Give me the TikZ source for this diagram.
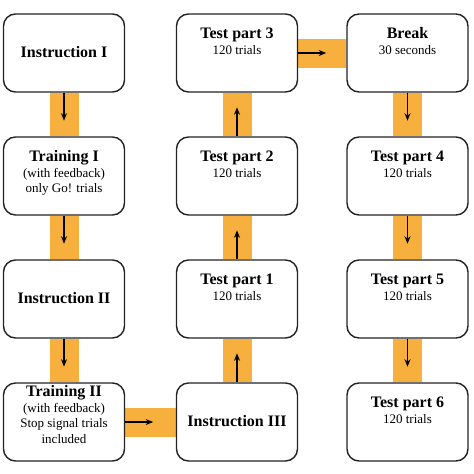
\documentclass[tikz,border=0pt]{standalone}
\usepackage{fontspec}
\setmainfont{Liberation Serif}
\usetikzlibrary{arrows.meta,backgrounds}
\definecolor{barorange}{RGB}{247,175,62}
\definecolor{boxline}{RGB}{35,35,35}
\tikzset{
  box/.style={draw=boxline, line width=1.4pt, rounded corners=12pt, fill=white,
    minimum width=121pt, minimum height=78pt, inner sep=0pt},
  ttl/.style={font=\bfseries\fontsize{16}{18}\selectfont, anchor=base, inner sep=0pt},
  sub/.style={font=\fontsize{13}{15.5}\selectfont, anchor=base, inner sep=0pt},
  bar/.style={fill=barorange},
  arr/.style={line width=1.2pt, -{Stealth[length=7.5pt,width=6pt]}}
}
\begin{document}
\begin{tikzpicture}[x=1pt,y=1pt]
\useasboundingbox (0,0) rectangle (474,-474);
% boxes
\node[box] (ins1) at (64,-53) {};
\node[box] (tr1) at (64,-176) {};
\node[box] (ins2) at (64,-299) {};
\node[box] (tr2) at (64,-422) {};
\node[box] (ins3) at (237,-422) {};
\node[box] (tp1) at (237,-299) {};
\node[box] (tp2) at (237,-176) {};
\node[box] (tp3) at (237,-53) {};
\node[box] (brk) at (407.5,-53) {};
\node[box] (tp4) at (407.5,-176) {};
\node[box] (tp5) at (407.5,-299) {};
\node[box] (tp6) at (407.5,-422) {};
% bars
\begin{pgfonlayer}{background}
\fill[bar] ([xshift=-14.5pt]ins1.south) rectangle ([xshift=14.5pt]tr1.north);
\fill[bar] ([xshift=-14.5pt]tr1.south) rectangle ([xshift=14.5pt]ins2.north);
\fill[bar] ([xshift=-14.5pt]ins2.south) rectangle ([xshift=14.5pt]tr2.north);
\fill[bar] ([yshift=14.5pt]tr2.east) rectangle ([yshift=-14.5pt]ins3.west);
\fill[bar] ([xshift=-14.5pt]tp1.south) rectangle ([xshift=14.5pt]ins3.north);
\fill[bar] ([xshift=-14.5pt]tp2.south) rectangle ([xshift=14.5pt]tp1.north);
\fill[bar] ([xshift=-14.5pt]tp3.south) rectangle ([xshift=14.5pt]tp2.north);
\fill[bar] ([yshift=14.5pt]tp3.east) rectangle ([yshift=-14.5pt]brk.west);
\fill[bar] ([xshift=-14.5pt]brk.south) rectangle ([xshift=14.5pt]tp4.north);
\fill[bar] ([xshift=-14.5pt]tp4.south) rectangle ([xshift=14.5pt]tp5.north);
\fill[bar] ([xshift=-14.5pt]tp5.south) rectangle ([xshift=14.5pt]tp6.north);
\end{pgfonlayer}
% arrow end coordinates
\coordinate (e1) at ([yshift=-28pt]ins1.south);
\coordinate (e2) at ([yshift=-28pt]tr1.south);
\coordinate (e3) at ([yshift=-28pt]ins2.south);
\coordinate (e4) at ([xshift=28pt]tr2.east);
\coordinate (e5) at ([yshift=29pt]ins3.north);
\coordinate (e6) at ([yshift=29pt]tp1.north);
\coordinate (e7) at ([yshift=29pt]tp2.north);
\coordinate (e8) at ([xshift=28pt]tp3.east);
\coordinate (e9) at ([yshift=-28pt]brk.south);
\coordinate (e10) at ([yshift=-28pt]tp4.south);
\coordinate (e11) at ([yshift=-28pt]tp5.south);
\draw[arr] (ins1.south) -- (e1);
\draw[arr] (tr1.south) -- (e2);
\draw[arr] (ins2.south) -- (e3);
\draw[arr] (tr2.east) -- (e4);
\draw[arr] (ins3.north) -- (e5);
\draw[arr] (tp1.north) -- (e6);
\draw[arr] (tp2.north) -- (e7);
\draw[arr] (tp3.east) -- (e8);
\draw[arr] (brk.south) -- (e9);
\draw[arr] (tp4.south) -- (e10);
\draw[arr] (tp5.south) -- (e11);
% texts
\node[ttl] (ins1t) at ([yshift=-44pt]ins1.north) {Instruction I};
\node[ttl] (tr1t) at ([yshift=-25pt]tr1.north) {Training I};
\node[sub] (tr1s) at ([yshift=-41pt]tr1.north) {(with feedback)};
\node[sub] (tr1u) at ([yshift=-56pt]tr1.north) {only Go! trials};
\node[ttl] (ins2t) at ([yshift=-44pt]ins2.north) {Instruction II};
\node[ttl] (tr2t) at ([yshift=-14pt]tr2.north) {Training II};
\node[sub] (tr2s) at ([yshift=-30pt]tr2.north) {(with feedback)};
\node[sub] (tr2u) at ([yshift=-45.5pt]tr2.north) {Stop signal trials};
\node[sub] (tr2v) at ([yshift=-61pt]tr2.north) {included};
\node[ttl] (ins3t) at ([yshift=-44pt]ins3.north) {Instruction III};
\node[ttl] (tp1t) at ([yshift=-25pt]tp1.north) {Test part 1};
\node[sub] (tp1s) at ([yshift=-41pt]tp1.north) {120 trials};
\node[ttl] (tp2t) at ([yshift=-25pt]tp2.north) {Test part 2};
\node[sub] (tp2s) at ([yshift=-41pt]tp2.north) {120 trials};
\node[ttl] (tp3t) at ([yshift=-25pt]tp3.north) {Test part 3};
\node[sub] (tp3s) at ([yshift=-41pt]tp3.north) {120 trials};
\node[ttl] (brkt) at ([yshift=-25pt]brk.north) {Break};
\node[sub] (brks) at ([yshift=-41pt]brk.north) {30 seconds};
\node[ttl] (tp4t) at ([yshift=-25pt]tp4.north) {Test part 4};
\node[sub] (tp4s) at ([yshift=-41pt]tp4.north) {120 trials};
\node[ttl] (tp5t) at ([yshift=-25pt]tp5.north) {Test part 5};
\node[sub] (tp5s) at ([yshift=-41pt]tp5.north) {120 trials};
\node[ttl] (tp6t) at ([yshift=-25pt]tp6.north) {Test part 6};
\node[sub] (tp6s) at ([yshift=-41pt]tp6.north) {120 trials};
\end{tikzpicture}
\end{document}
